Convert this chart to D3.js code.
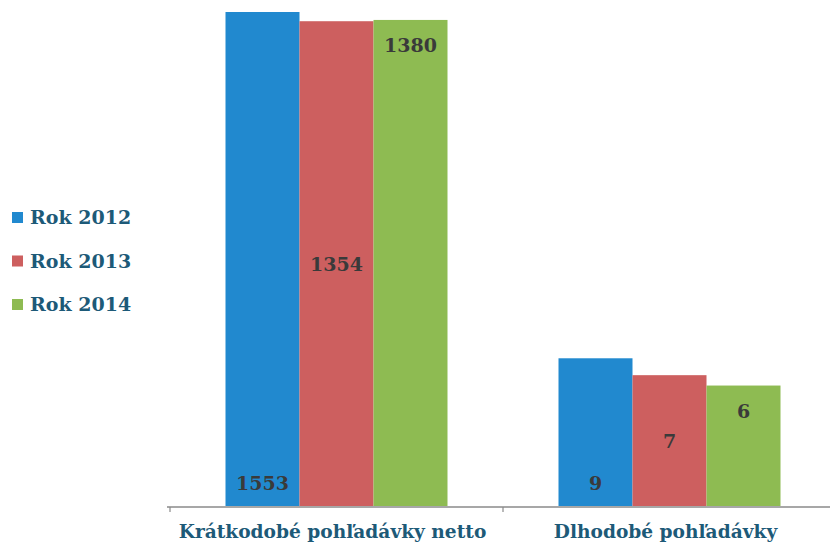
<!DOCTYPE html>
<html>
<head>
<meta charset="utf-8">
<script src="https://cdn.jsdelivr.net/npm/d3@7"></script>
<style>
  body { margin: 0; background: #fff; }
  svg { display: block; }
</style>
</head>
<body>
<script>
const width = 830;
const height = 549;

// data
const categories = ['Krátkodobé pohľadávky netto', 'Dlhodobé pohľadávky'];
const years = ['Rok 2012', 'Rok 2013', 'Rok 2014'];
const values2012 = [1553, 9];
const values2013 = [1354, 7];
const values2014 = [1380, 6];
const colors = ['#2189cf', '#cd5f5f', '#8ebb52'];
// where each series puts its data label (inside base, center, inside end)
const labelPos = ['base', 'center', 'end'];

const series = [values2012, values2013, values2014];
const baseline = 506;

const svg = d3.select('body')
  .append('svg')
  .attr('width', width)
  .attr('height', height);

const x0 = d3.scaleBand()
  .domain(categories)
  .range([170, 836])
  .paddingInner(1 / 3)
  .paddingOuter(1 / 6);

const x1 = d3.scaleBand()
  .domain(years)
  .range([0, x0.bandwidth()]);

// the bars are drawn on a log scale
const y = d3.scaleLog()
  .domain([1, 1553])
  .range([baseline, 12]);

const rows = [];
categories.forEach((c, i) => {
  years.forEach((yr, j) => {
    rows.push({ cat: c, year: yr, value: series[j][i], idx: j });
  });
});

svg.append('g')
  .selectAll('rect')
  .data(rows)
  .enter()
  .append('rect')
  .attr('x', d => x0(d.cat) + x1(d.year))
  .attr('y', d => y(d.value))
  .attr('width', x1.bandwidth())
  .attr('height', d => baseline - y(d.value))
  .attr('fill', d => colors[d.idx]);

svg.append('g')
  .selectAll('text')
  .data(rows)
  .enter()
  .append('text')
  .attr('x', d => x0(d.cat) + x1(d.year) + x1.bandwidth() / 2)
  .attr('y', d => {
    const top = y(d.value);
    const pos = labelPos[d.idx];
    if (pos === 'base') return baseline - 16;
    if (pos === 'center') return (top + baseline) / 2 + 7;
    return top + 32;
  })
  .attr('text-anchor', 'middle')
  .attr('font-family', '"DejaVu Serif", serif')
  .attr('font-weight', 'bold')
  .attr('font-size', '19px')
  .attr('fill', '#3a3a3a')
  .text(d => d.value);

// x axis: line with ticks at the band edges
const axis = svg.append('g').attr('class', 'x-axis');
axis.append('line')
  .attr('x1', 167)
  .attr('x2', width)
  .attr('y1', baseline + 1)
  .attr('y2', baseline + 1)
  .attr('stroke', '#8a8a8a')
  .attr('stroke-width', 1.5);

const tickXs = [x0.range()[0], x0.range()[0] + x0.step()];
axis.selectAll('line.tick')
  .data(tickXs)
  .enter()
  .append('line')
  .attr('class', 'tick')
  .attr('x1', d => d)
  .attr('x2', d => d)
  .attr('y1', baseline + 1)
  .attr('y2', baseline + 6)
  .attr('stroke', '#8a8a8a')
  .attr('stroke-width', 1.2);

axis.selectAll('text')
  .data(categories)
  .enter()
  .append('text')
  .attr('x', d => x0(d) + x0.bandwidth() / 2 - 4)
  .attr('y', 538)
  .attr('text-anchor', 'middle')
  .attr('font-family', '"DejaVu Serif", serif')
  .attr('font-weight', 'bold')
  .attr('font-size', '18.6px')
  .attr('fill', '#1d5a78')
  .text(d => d);

// legend
const legend = svg.append('g')
  .attr('id', 'legend')
  .attr('transform', 'translate(12, 212)');

const items = legend.selectAll('g')
  .data(years)
  .enter()
  .append('g')
  .attr('transform', (d, i) => 'translate(0,' + i * 43.5 + ')');

items.append('rect')
  .attr('width', 11)
  .attr('height', 11)
  .attr('fill', (d, i) => colors[i]);

items.append('text')
  .attr('x', 18)
  .attr('y', 12)
  .attr('font-family', '"DejaVu Serif", serif')
  .attr('font-weight', 'bold')
  .attr('font-size', '19px')
  .attr('fill', '#1d5a78')
  .text(d => d);
</script>
</body>
</html>
